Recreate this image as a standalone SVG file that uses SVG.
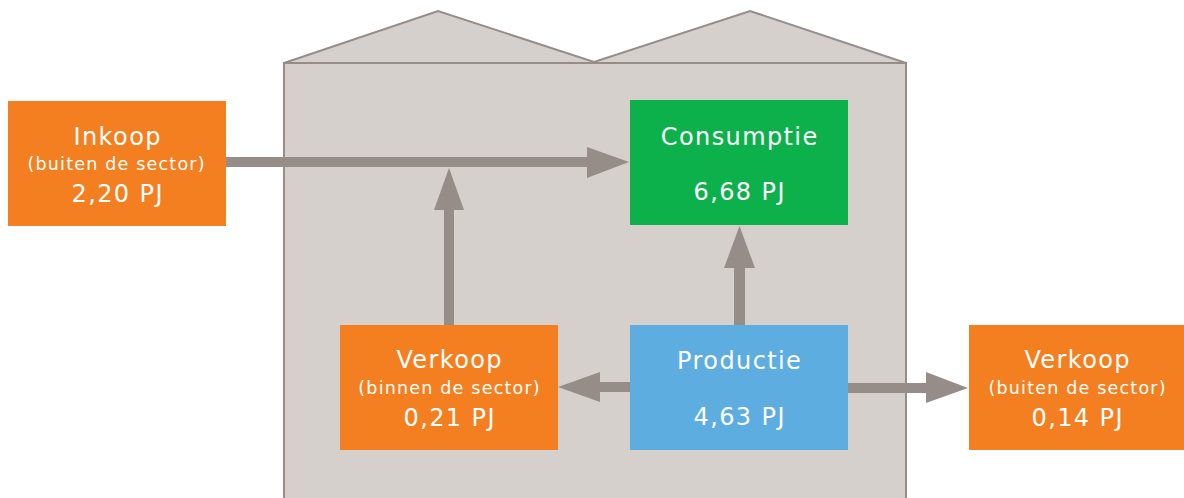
<svg xmlns="http://www.w3.org/2000/svg" width="1184" height="498" viewBox="0 0 1184 498">
<style>
.t{font-family:"DejaVu Sans",Verdana,sans-serif;fill:#fff;text-anchor:middle}
.big{font-size:24px;letter-spacing:1.4px}
.small{font-size:17.5px;letter-spacing:1.2px}
.arrow{fill:#968d89}
</style>
<rect width="1184" height="498" fill="#fff"/>
<g id="building">
<path d="M284,63 L438,11 L594,62 L750,11 L906,63 Z" fill="#d5d0cc" stroke="#968d89" stroke-width="2" stroke-linejoin="miter"/>
<rect x="284" y="63" width="622" height="440" fill="#d5d0cc" stroke="#968d89" stroke-width="2"/>
</g>
<g id="connectors" class="arrow">
<rect x="226" y="157" width="362" height="10"/>
<polygon points="587,147 629,162 587,178"/>
<rect x="444" y="208" width="10" height="118"/>
<polygon points="434,210 449,168 464,210"/>
<rect x="734" y="266" width="11" height="60"/>
<polygon points="724,268 739.5,226 755,268"/>
<rect x="598" y="382" width="33" height="10"/>
<polygon points="600,372 558,387 600,402"/>
<rect x="847" y="383" width="81" height="10"/>
<polygon points="926,372 968,388 926,403"/>
</g>
<g id="inkoop">
<rect x="8" y="101" width="218" height="125" fill="#f47f20"/>
<text class="t big" x="117.7" y="144.5">Inkoop</text>
<text class="t small" x="116.6" y="169.5">(buiten de sector)</text>
<text class="t big" x="117.7" y="202">2,20 PJ</text>
</g>
<g id="consumptie">
<rect x="630" y="100" width="218" height="125" fill="#0db14b"/>
<text class="t big" x="739.7" y="144.5">Consumptie</text>
<text class="t big" x="739.7" y="200">6,68 PJ</text>
</g>
<g id="verkoop-binnen">
<rect x="340" y="325" width="218" height="125" fill="#f47f20"/>
<text class="t big" x="449.7" y="368">Verkoop</text>
<text class="t small" x="449.6" y="394">(binnen de sector)</text>
<text class="t big" x="449.7" y="426">0,21 PJ</text>
</g>
<g id="productie">
<rect x="630" y="325" width="218" height="125" fill="#5dade0"/>
<text class="t big" x="739.7" y="369">Productie</text>
<text class="t big" x="739.7" y="425">4,63 PJ</text>
</g>
<g id="verkoop-buiten">
<rect x="969" y="325" width="215" height="125" fill="#f47f20"/>
<text class="t big" x="1077.7" y="368">Verkoop</text>
<text class="t small" x="1077.6" y="394">(buiten de sector)</text>
<text class="t big" x="1077.7" y="426">0,14 PJ</text>
</g>
</svg>
